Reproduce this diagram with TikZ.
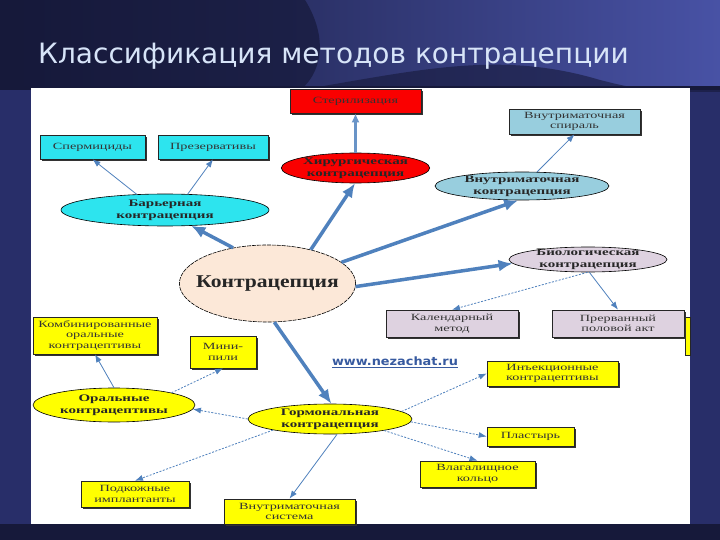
\documentclass[tikz,border=0pt]{standalone}
\usepackage{fontspec}
\setmainfont{Liberation Serif}
\newfontfamily\titlefont{DejaVu Sans}
\newfontfamily\urlfont[FakeStretch=1.12]{DejaVu Sans}
\newfontfamily\boxfont[FakeStretch=1.5]{Liberation Serif}
\newfontfamily\ovalfont[FakeStretch=1.5]{Liberation Serif}
\newfontfamily\hubfont[FakeStretch=1.2]{Liberation Serif}
\usetikzlibrary{arrows.meta,positioning,shapes.geometric,shadows}

\definecolor{bgdark}{RGB}{22,25,58}
\definecolor{bgmid}{RGB}{40,46,105}
\definecolor{bglight}{RGB}{72,82,165}
\definecolor{titlecol}{RGB}{215,228,248}
\definecolor{arrowblue}{RGB}{79,129,189}
\definecolor{cyanbox}{RGB}{45,228,238}
\definecolor{redbox}{RGB}{250,0,0}
\definecolor{bluebox}{RGB}{152,206,222}
\definecolor{lilacbox}{RGB}{222,210,224}
\definecolor{yellowbox}{RGB}{255,255,0}
\definecolor{peach}{RGB}{252,232,216}
\definecolor{urlcol}{RGB}{55,90,160}

\begin{document}
\begin{tikzpicture}[x=1pt,y=-1pt,
  box/.style={draw=black!85,line width=0.6pt,inner sep=0pt,align=center,
    font=\boxfont\fontsize{9.5}{10.5}\selectfont,text=black!80,
    drop shadow={shadow xshift=1.8pt,shadow yshift=-1.8pt,fill=black!80,opacity=1}},
  oval/.style={ellipse,draw=black,line width=0.6pt,inner xsep=0pt,inner ysep=-2.5pt,align=center,
    font=\ovalfont\bfseries\fontsize{10}{12}\selectfont,text=black!85},
  bigarrow/.style={draw=arrowblue,line width=3.5pt,-{Latex[length=14pt,width=12pt]}},
  midarrow/.style={draw=arrowblue!85,line width=2.2pt,-{Latex[length=9pt,width=8pt]}},
  thinarrow/.style={draw=arrowblue,line width=0.8pt,-{Latex[length=8pt,width=6pt]}},
  dasharrow/.style={thinarrow,dash pattern=on 2pt off 1.5pt}]
  \useasboundingbox (0,0) rectangle (720,540);

  % slide background
  \fill[bgmid] (0,0) rectangle (720,540);
  \shade[left color=bgdark,right color=bglight] (0,0) rectangle (720,90);
  \fill[bgdark,opacity=0.7] (0,0) -- (305,0) .. controls (330,40) and (320,75) .. (300,90) -- (0,90) -- cycle;
  \fill[bgdark,opacity=0.6] (300,90) .. controls (420,70) and (500,50) .. (600,80) .. controls (640,90) .. (720,88) -- (720,92) -- (300,92) -- cycle;
  \fill[bgdark] (0,86) rectangle (720,90);
  \fill[bgdark] (0,524) rectangle (720,540);
  \node[anchor=west,font=\titlefont\fontsize{28}{32}\selectfont,text=titlecol,inner sep=0pt] (title) at (38,56) {Классификация методов контрацепции};

  % white panel
  \fill[white] (31,88) rectangle (690,524);
  \filldraw[fill=yellowbox,draw=black!85,line width=0.6pt] (685,317) rectangle (690,355);

  % boxes
  \node[box,fill=redbox,minimum width=131pt,minimum height=24pt] (ster) at (355.5,101) {Стерилизация};
  \node[box,fill=cyanbox,minimum width=105pt,minimum height=24pt] (sperm) at (92.5,147) {Спермициды};
  \node[box,fill=cyanbox,minimum width=110pt,minimum height=24pt] (prez) at (213,147) {Презервативы};
  \node[box,fill=bluebox,minimum width=131pt,minimum height=25pt] (spiral) at (574.5,121.5) {Внутриматочная\\спираль};
  \node[box,fill=lilacbox,minimum width=132pt,minimum height=27pt] (kal) at (452,323.5) {Календарный\\метод};
  \node[box,fill=lilacbox,minimum width=132pt,minimum height=27pt] (prer) at (618,323.5) {Прерванный\\половой акт};
  \node[box,fill=yellowbox,minimum width=124pt,minimum height=37pt] (komb) at (95,335.5) {Комбинированные\\оральные\\контрацептивы};
  \node[box,fill=yellowbox,minimum width=66pt,minimum height=32pt] (mini) at (223,352) {Мини-\\пили};
  \node[box,fill=yellowbox,minimum width=131pt,minimum height=25pt] (inj) at (552.5,373.5) {Инъекционные\\контрацептивы};
  \node[box,fill=yellowbox,minimum width=87pt,minimum height=19pt] (plast) at (530.5,436.5) {Пластырь};
  \node[box,fill=yellowbox,minimum width=115pt,minimum height=26pt] (kolco) at (477.5,474) {Влагалищное\\кольцо};
  \node[box,fill=yellowbox,minimum width=108pt,minimum height=26pt] (podk) at (135,494) {Подкожные\\имплантанты};
  \node[box,fill=yellowbox,minimum width=131pt,minimum height=25pt] (vmsys) at (289.5,511.5) {Внутриматочная\\система};

  % ovals
  \node[oval,fill=redbox,minimum width=139pt,minimum height=30pt] (hir) at (355.5,168) {Хирургическая\\контрацепция};
  \node[oval,fill=bluebox,minimum width=174pt,minimum height=28pt] (vmk) at (522,186) {Внутриматочная\\контрацепция};
  \node[oval,fill=cyanbox,minimum width=208pt,minimum height=32pt] (bar) at (165,210) {Барьерная\\контрацепция};
  \node[oval,fill=peach,minimum width=175pt,minimum height=77pt,inner xsep=-9pt,dash pattern=on 4pt off 1pt,
        font=\hubfont\bfseries\fontsize{18}{20}\selectfont] (kontr) at (267.5,283.5) {Контрацепция};
  \node[oval,fill=lilacbox,minimum width=158pt,minimum height=25pt] (bio) at (588,259.5) {Биологическая\\контрацепция};
  \node[oval,fill=yellowbox,minimum width=162pt,minimum height=34pt] (oral) at (114,405) {Оральные\\контрацептивы};
  \node[oval,fill=yellowbox,minimum width=164pt,minimum height=30pt] (gorm) at (330,419) {Гормональная\\контрацепция};

  \node[font=\urlfont\bfseries\fontsize{11.5}{13}\selectfont,text=urlcol,inner sep=1pt] (url) at (395,362) {\underline{www.nezachat.ru}};

  % main arrows
  \draw[bigarrow] (kontr.134) -- (bar.-31);
  \draw[bigarrow] (kontr.38) -- (hir.-92);
  \draw[bigarrow] (kontr.16) -- (vmk.-105);
  \draw[bigarrow] (kontr.-2) -- (bio.183);
  \draw[bigarrow] (kontr.-80) -- (gorm.85);
  \draw[midarrow] (hir.north) -- (ster.south);

  % branches
  \draw[thinarrow] (bar.151) -- (sperm.south);
  \draw[thinarrow] (bar.35) -- (prez.south);
  \draw[thinarrow] (vmk.43) -- (spiral.south);
  \draw[dasharrow] (bio.-92) -- (kal.north);
  \draw[thinarrow] (bio.-84) -- (prer.north);
  \draw[dasharrow] (gorm.west) -- (oral.-3);
  \draw[thinarrow] (oral.north) -- (komb.south);
  \draw[dasharrow] (oral.12) -- (mini.south);
  \draw[dasharrow] (gorm.6) -- (inj.west);
  \draw[dasharrow] (gorm.-2) -- (plast.west);
  \draw[dasharrow] (gorm.-12) -- (kolco.north);
  \draw[dasharrow] (gorm.191) -- (podk.north);
  \draw[thinarrow] (gorm.-65) -- (vmsys.north);
\end{tikzpicture}
\end{document}
